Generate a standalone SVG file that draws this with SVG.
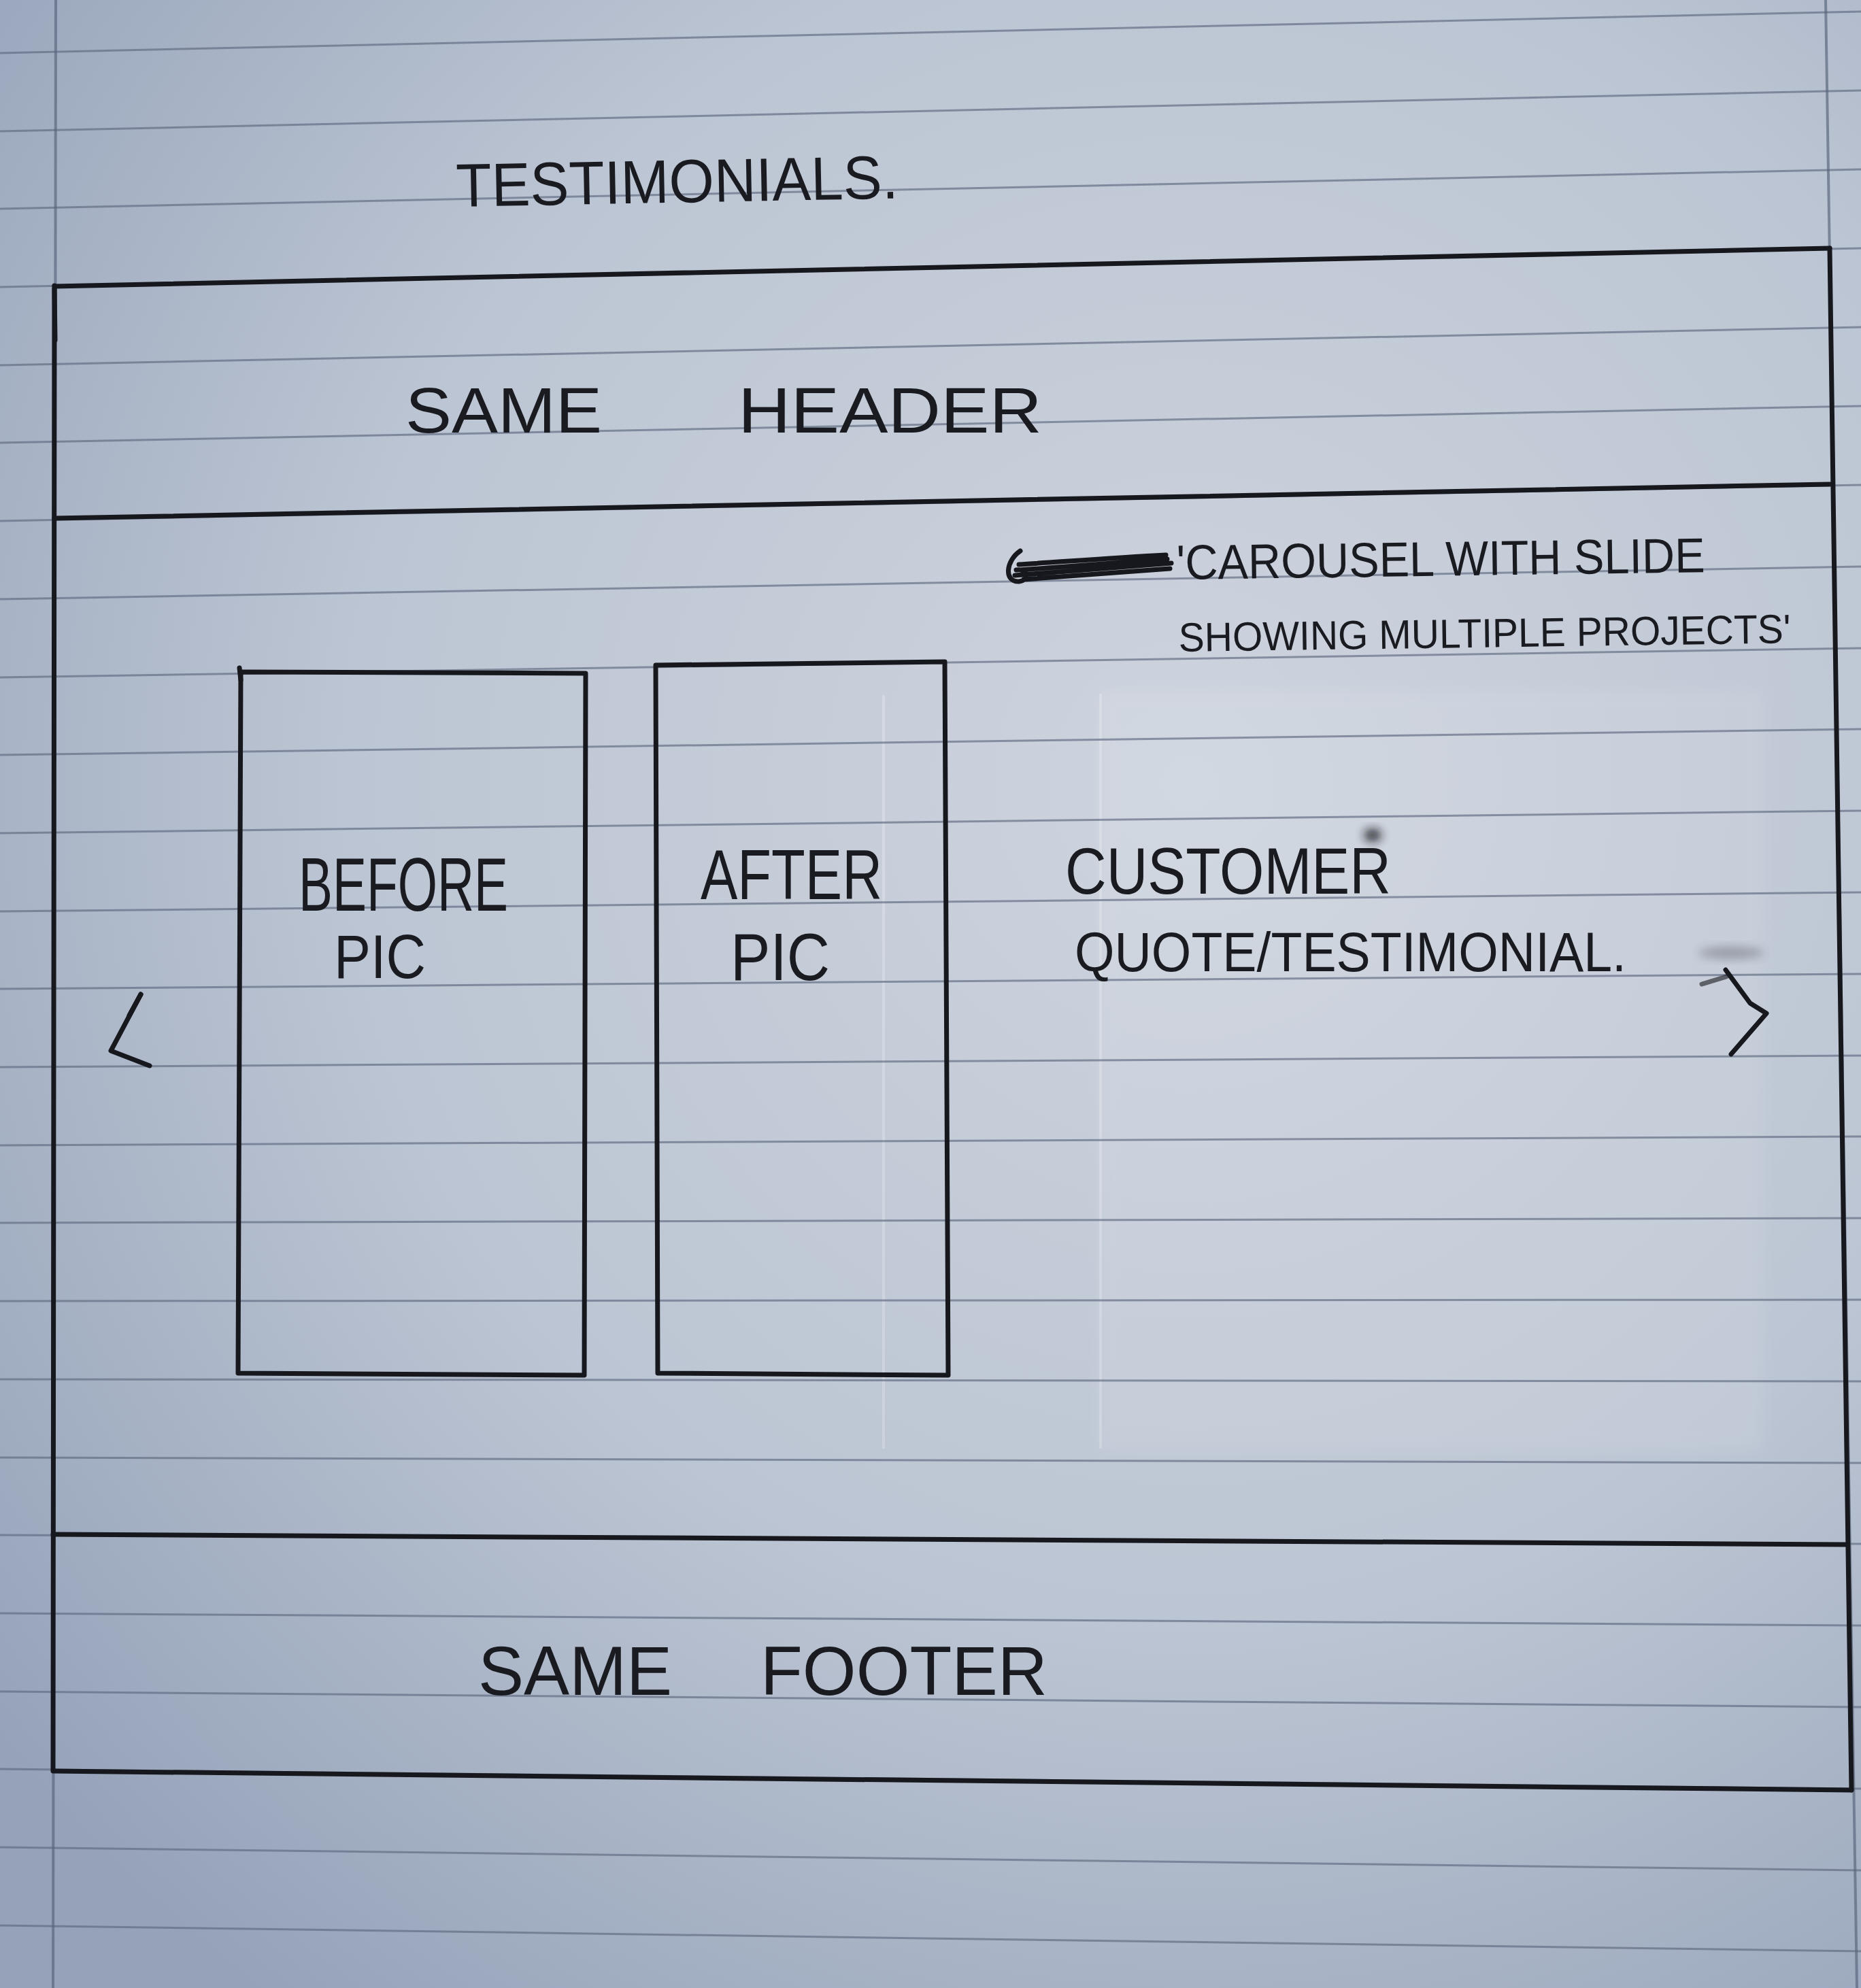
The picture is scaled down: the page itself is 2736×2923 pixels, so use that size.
<svg xmlns="http://www.w3.org/2000/svg" width="2736" height="2923" viewBox="0 0 2736 2923">
  <defs>
    <radialGradient id="paper" cx="1750" cy="1150" r="2250" gradientUnits="userSpaceOnUse">
      <stop offset="0" stop-color="#ced4de"/>
      <stop offset="0.55" stop-color="#bcc5d3"/>
      <stop offset="1" stop-color="#95a2b9"/>
    </radialGradient>
    <filter id="soft" x="-10%" y="-10%" width="120%" height="120%"><feGaussianBlur stdDeviation="10"/></filter>
    <filter id="smudge" x="-50%" y="-50%" width="200%" height="200%"><feGaussianBlur stdDeviation="7"/></filter>
  </defs>
  <style>
    .rule { stroke: #5d6880; stroke-width: 3; stroke-opacity: 0.65; fill: none; }
    .margin { stroke: #56627a; stroke-width: 4; stroke-opacity: 0.65; fill: none; }
    .ink { stroke: #17181d; stroke-width: 7; fill: none; stroke-linecap: round; stroke-linejoin: round; }
    .hand { font-family: "Liberation Sans", "DejaVu Sans", sans-serif; fill: #1a1b20; }
  </style>

  <!-- paper -->
  <rect x="0" y="0" width="2736" height="2923" fill="url(#paper)"/>
  <!-- pressed-through impression from the previous page -->
  <rect x="1618" y="1016" width="973" height="1118" fill="#ffffff" opacity="0.09" filter="url(#soft)"/>
  <path d="M1618,1020 V2130 M1299,1022 V2130" stroke="#ffffff" stroke-opacity="0.22" stroke-width="4" fill="none"/>

  <!-- ruled lines -->
  <g id="ruling">
    <line class="rule" x1="0" y1="78" x2="2736" y2="17"/>
    <line class="rule" x1="0" y1="193" x2="2736" y2="133"/>
    <line class="rule" x1="0" y1="307" x2="2736" y2="249"/>
    <line class="rule" x1="0" y1="422" x2="2736" y2="365"/>
    <line class="rule" x1="0" y1="537" x2="2736" y2="481"/>
    <line class="rule" x1="0" y1="651" x2="2736" y2="597"/>
    <line class="rule" x1="0" y1="766" x2="2736" y2="713"/>
    <line class="rule" x1="0" y1="881" x2="2736" y2="833"/>
    <line class="rule" x1="0" y1="996" x2="2736" y2="953"/>
    <line class="rule" x1="0" y1="1110" x2="2736" y2="1072"/>
    <line class="rule" x1="0" y1="1225" x2="2736" y2="1192"/>
    <line class="rule" x1="0" y1="1340" x2="2736" y2="1312"/>
    <line class="rule" x1="0" y1="1454" x2="2736" y2="1432"/>
    <line class="rule" x1="0" y1="1569" x2="2736" y2="1552"/>
    <line class="rule" x1="0" y1="1684" x2="2736" y2="1671"/>
    <line class="rule" x1="0" y1="1798" x2="2736" y2="1791"/>
    <line class="rule" x1="0" y1="1913" x2="2736" y2="1911"/>
    <line class="rule" x1="0" y1="2028" x2="2736" y2="2031"/>
    <line class="rule" x1="0" y1="2143" x2="2736" y2="2151"/>
    <line class="rule" x1="0" y1="2257" x2="2736" y2="2270"/>
    <line class="rule" x1="0" y1="2372" x2="2736" y2="2390"/>
    <line class="rule" x1="0" y1="2487" x2="2736" y2="2510"/>
    <line class="rule" x1="0" y1="2601" x2="2736" y2="2630"/>
    <line class="rule" x1="0" y1="2716" x2="2736" y2="2750"/>
    <line class="rule" x1="0" y1="2831" x2="2736" y2="2869"/>
    <line class="margin" x1="82" y1="0" x2="78" y2="2923"/>
    <line class="margin" x1="2684" y1="0" x2="2730" y2="2923"/>
  </g>

  <!-- page title -->
  <g id="title">
    <text class="hand" x="671" y="304" font-size="90" textLength="650" lengthAdjust="spacingAndGlyphs" transform="rotate(-1.1 671 304)">TESTIMONIALS.</text>
  </g>

  <!-- page frame: outer border of the wireframe -->
  <g id="page-frame">
    <path class="ink" d="M80,421 L2690,365"/>
    <path class="ink" d="M80,420 L78,2602" stroke-width="6"/>
    <path class="ink" d="M80,425 L81,500" stroke-width="11"/>
    <path class="ink" d="M2690,365 L2722,2632" stroke="#3f4a60" stroke-width="5"/>
    <path class="ink" d="M78,2604 L2722,2632"/>
  </g>

  <g id="header">
    <path class="ink" d="M80,762 L2690,712"/>
    <text class="hand" y="636" font-size="95">
      <tspan x="596" textLength="289" lengthAdjust="spacingAndGlyphs">SAME</tspan>
      <tspan x="1085" textLength="447" lengthAdjust="spacingAndGlyphs">HEADER</tspan>
    </text>
  </g>

  <g id="carousel-note">
    <!-- crossed-out word -->
    <path class="ink" stroke-width="6" d="M1500,810 C1478,825 1476,856 1498,855 C1515,853 1512,835 1494,838 M1492,846 L1722,828 M1500,838 L1716,822 M1505,852 L1720,836 M1498,830 C1560,826 1640,820 1714,816"/>
    <text class="hand" x="1730" y="852" font-size="72" textLength="777" lengthAdjust="spacingAndGlyphs" transform="rotate(-0.8 1730 852)">'CAROUSEL WITH SLIDE</text>
    <text class="hand" x="1733" y="958" font-size="60" textLength="900" lengthAdjust="spacingAndGlyphs" transform="rotate(-0.8 1733 958)">SHOWING MULTIPLE PROJECTS'</text>
  </g>

  <g id="before-pic">
    <path class="ink" d="M354,988 L861,990 L859,2022 L350,2019 Z" stroke-width="6"/>
    <path class="ink" d="M352,982 L354,1000" stroke-width="10"/>
    <text class="hand" x="439" y="1339" font-size="112" textLength="308" lengthAdjust="spacingAndGlyphs">BEFORE</text>
    <text class="hand" x="491" y="1438" font-size="90" textLength="135" lengthAdjust="spacingAndGlyphs">PIC</text>
  </g>

  <g id="after-pic">
    <path class="ink" d="M964,978 L1389,973 L1394,2022 L967,2019 Z" stroke-width="6"/>
    <text class="hand" x="1030" y="1322" font-size="104" textLength="267" lengthAdjust="spacingAndGlyphs">AFTER</text>
    <text class="hand" x="1074" y="1441" font-size="98" textLength="146" lengthAdjust="spacingAndGlyphs">PIC</text>
  </g>

  <g id="customer-quote">
    <text class="hand" x="1566" y="1314" font-size="96" textLength="479" lengthAdjust="spacingAndGlyphs">CUSTOMER</text>
    <ellipse cx="2018" cy="1228" rx="13" ry="10" fill="#17181d" opacity="0.8" filter="url(#smudge)"/>
    <text class="hand" x="1580" y="1428" font-size="81" textLength="811" lengthAdjust="spacingAndGlyphs">QUOTE/TESTIMONIAL.</text>
  </g>

  <g id="prev-arrow">
    <path class="ink" d="M207,1462 L163,1545 L220,1567" stroke-width="8"/>
    <path class="ink" d="M207,1462 L190,1493" stroke-width="13"/>
  </g>

  <g id="next-arrow">
    <ellipse cx="2545" cy="1401" rx="48" ry="9" fill="#2a2c33" opacity="0.3" filter="url(#smudge)"/>
    <path class="ink" d="M2502,1447 L2538,1436" stroke-width="6" stroke-opacity="0.6"/>
    <path class="ink" d="M2537,1426 L2573,1475 L2597,1490 L2545,1550" stroke-width="11"/>
  </g>

  <g id="footer">
    <path class="ink" d="M78,2256 L2714,2271"/>
    <text class="hand" y="2492" font-size="102">
      <tspan x="703" textLength="285" lengthAdjust="spacingAndGlyphs">SAME</tspan>
      <tspan x="1118" textLength="422" lengthAdjust="spacingAndGlyphs">FOOTER</tspan>
    </text>
  </g>

  <g id="connectors"/>
</svg>
